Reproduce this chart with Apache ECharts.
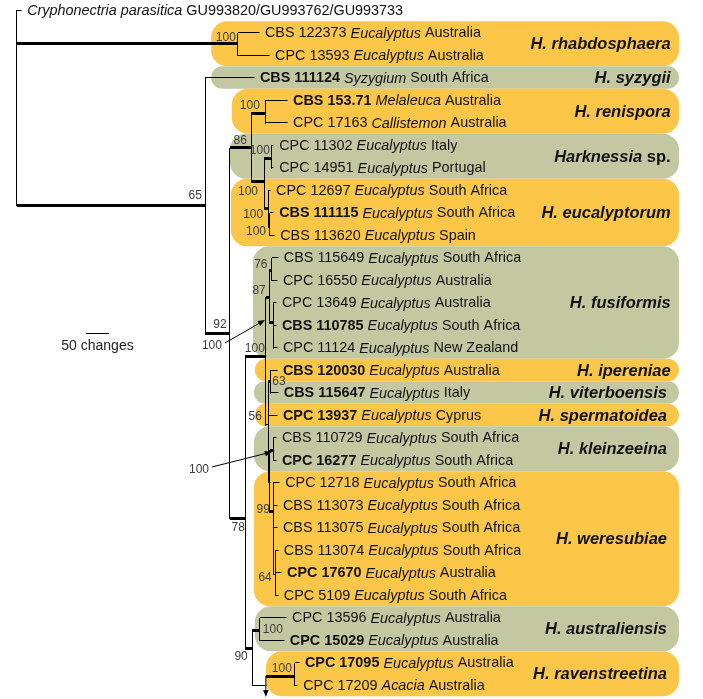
<!DOCTYPE html>
<html><head><meta charset="utf-8">
<script src="https://cdn.jsdelivr.net/npm/echarts@6/dist/echarts.min.js"></script>
<style>html,body{margin:0;padding:0;background:#fff}#c{width:703px;height:699px}</style>
</head><body><div id="c"></div>
<script>
// ---------------- DATA ----------------
// Terminal taxa (one per row, top to bottom)
const tipStrain = ['GU993820/GU993762/GU993733','CBS 122373','CPC 13593','CBS 111124','CBS 153.71','CPC 17163','CPC 11302','CPC 14951','CPC 12697','CBS 111115','CBS 113620','CBS 115649','CPC 16550','CPC 13649','CBS 110785','CPC 11124','CBS 120030','CBS 115647','CPC 13937','CBS 110729','CPC 16277','CPC 12718','CBS 113073','CBS 113075','CBS 113074','CPC 17670','CPC 5109','CPC 13596','CPC 15029','CPC 17095','CPC 17209'];
const tipHost = ['Cryphonectria parasitica','Eucalyptus','Eucalyptus','Syzygium','Melaleuca','Callistemon','Eucalyptus','Eucalyptus','Eucalyptus','Eucalyptus','Eucalyptus','Eucalyptus','Eucalyptus','Eucalyptus','Eucalyptus','Eucalyptus','Eucalyptus','Eucalyptus','Eucalyptus','Eucalyptus','Eucalyptus','Eucalyptus','Eucalyptus','Eucalyptus','Eucalyptus','Eucalyptus','Eucalyptus','Eucalyptus','Eucalyptus','Eucalyptus','Acacia'];
const tipCountry = ['','Australia','Australia','South Africa','Australia','Australia','Italy','Portugal','South Africa','South Africa','Spain','South Africa','Australia','Australia','South Africa','New Zealand','Australia','Italy','Cyprus','South Africa','South Africa','South Africa','South Africa','South Africa','South Africa','Australia','South Africa','Australia','Australia','Australia','Australia'];
const tipBold = [0,0,0,1,1,0,0,0,0,1,0,0,0,0,1,0,1,1,1,0,1,0,0,0,0,1,0,0,1,1,0];
// tip position along the branch-length axis (changes from root) and parent node
const tipX = [9,526,548,515,587,587,557,557,550,557,559,567,565,563,563,565,565,567,565,563,563,570,565,565,567,574,567,585,580,613,609];
const tipParent = [0,1,1,2,5,5,7,7,8,9,9,13,13,14,14,14,16,16,15,18,18,19,19,19,20,20,20,22,22,24,24];

// Internal nodes: x (changes from root), row position, parent, support, thick (bold branch)
const nodeX      = [0,   480, 409,  463,   509,  541,  537,  554,  546, 550,  496,   541,   548,   554,   557,   546,   552,   550,   557,   557,   561,   511,   528,   541,  604];
const nodeRow    = [4.3, 1.5, 8.67, 14.36, 6.13, 4.62, 7.64, 6.58, 8.8, 9.64, 22.58, 15.42, 12.76, 11.56, 13.87, 18.44, 16.53, 20.98, 19.56, 22.31, 25.07, 28.36, 27.56, 30.0, 29.6];
const nodeParent = [-1,  0,   0,    2,     3,    4,    4,    6,    6,   8,    3,     10,    11,    12,    12,    11,    15,    15,    17,    17,    19,    10,    21,    21,   23];
const nodeSupport= ['', '100','65', '92',  '86', '100','100','100','100','100','78', '100', '87',  '76',  '',    '56',  '63',  '',    '',    '99',  '64',  '90',  '100', '',   '100'];
const nodeThick  = [0,   1,   1,    1,     1,    1,    1,    1,    1,   1,    1,     1,     1,     1,     1,     0,     1,     0,     1,     1,     0,     1,     1,     0,    1];

// Supports pointed to with arrows
const arrowLabel = ['100','100',''];
const arrowFromX = [452, 424, 541];
const arrowFromRow = [14.8, 20.31, 29.6];
const arrowToX = [539, 554, 541];
const arrowToRow = [13.78, 19.64, 30.53];

// Clades (coloured bands)
const cladeName = ['H. rhabdosphaera','H. syzygii','H. renispora','Harknessia sp.','H. eucalyptorum','H. fusiformis','H. ipereniae','H. viterboensis','H. spermatoidea','H. kleinzeeina','H. weresubiae','H. australiensis','H. ravenstreetina'];
const cladeFirstRow = [1,3,4,6,8,11,16,17,18,19,21,27,29];
const cladeLastRow  = [2,3,5,7,10,15,16,17,18,20,26,28,30];
const cladeLeftX    = [422,422,467,463,465,513,517,515,517,515,515,517,541];
const cladeShade    = ['o','g','o','g','o','g','o','g','o','g','o','g','o'];

// Scale bar
const scaleBarChanges = 50;
const scaleBarLabel = '50 changes';

// ---------------- LAYOUT / STYLE ----------------
const PX_PER_CHANGE = 0.46, ROOT_PX = 17, ROW_PX = 22.5, TOP_PX = 10;
const W = 703, H = 699;
const X_MIN = -ROOT_PX / PX_PER_CHANGE, X_MAX = (W - ROOT_PX) / PX_PER_CHANGE;
const Y_MIN = -TOP_PX / ROW_PX, Y_MAX = (H - TOP_PX) / ROW_PX;
const BAND_RIGHT = 1439;      // band right edge (changes axis)
const CLADE_TEXT_RIGHT = [1421,1421,1421,1421,1421,1421,1421,1413,1413,1413,1413,1413,1413];
const SCALE_X0 = 150, SCALE_ROW = 14.36;
const FONT = '"Liberation Sans", Arial, Helvetica, sans-serif';
const COLORS = {o:'#FCC749', g:'#C4C8A1'};
const supportOffset = [[0,0],[-12,-6],[-10,-9],[-10,-8],[-11,-7],[-16,-8],[-16,10],[-12,-7],[-15,7],[-14,5],[-7,10],[-11,-8],[-10,-6],[-11,-5],[0,0],[-13,-8],[8,0],[0,0],[0,0],[-10,-2],[-10,4],[-11,9],[13,0],[0,0],[-13,-7]];

// ---------------- BUILD SEGMENTS ----------------
const segs = [];
nodeX.forEach((x, i) => {
  const p = nodeParent[i];
  if (p >= 0) segs.push([nodeX[p], nodeRow[i], x, nodeRow[i], nodeThick[i] ? 3 : 1]);
});
tipX.forEach((x, i) => { segs.push([nodeX[tipParent[i]], i, x, i, 1]); });
nodeX.forEach((x, i) => {
  const rows = [];
  nodeParent.forEach((p, j) => { if (p === i) rows.push(nodeRow[j]); });
  tipParent.forEach((p, j) => { if (p === i) rows.push(j); });
  if (rows.length > 1) segs.push([x, Math.min(...rows), x, Math.max(...rows), 1]);
});

function snap(v, w) { return (Math.round(w) % 2 === 1) ? Math.floor(v) + 0.5 : Math.round(v); }

function renderSeg(params, api) {
  const a = api.coord([api.value(0), api.value(1)]);
  const b = api.coord([api.value(2), api.value(3)]);
  const w = api.value(4);
  let x1 = a[0], y1 = a[1], x2 = b[0], y2 = b[1];
  if (y1 === y2) { y1 = y2 = snap(y1, w); x1 = Math.round(x1); x2 = Math.round(x2) + (w === 1 ? 0.5 : 0); }
  else { x1 = x2 = snap(x1, w); y1 = Math.round(y1); y2 = Math.round(y2) + 1; }
  return { type: 'line', shape: { x1, y1, x2, y2 }, style: { stroke: '#000', lineWidth: w, lineCap: 'butt' } };
}

function renderBand(params, api) {
  const i = params.dataIndex;
  const a = api.coord([cladeLeftX[i], cladeFirstRow[i] - 0.5]);
  const b = api.coord([BAND_RIGHT, cladeLastRow[i] + 0.5]);
  const h = b[1] - a[1];
  const r = Math.min(16, h / 2);
  const t = api.coord([CLADE_TEXT_RIGHT[i], (cladeFirstRow[i] + cladeLastRow[i]) / 2]);
  const nm = cladeName[i];
  const txt = nm === 'Harknessia sp.' ? '{bi|Harknessia}{b| sp.}' : '{bi|' + nm + '}';
  return { type: 'group', children: [
    { type: 'rect', shape: { x: a[0], y: a[1], width: b[0] - a[0], height: h, r: r }, style: { fill: COLORS[cladeShade[i]] } },
    { type: 'text', x: t[0], y: t[1] + 1, style: { text: txt, align: 'right', verticalAlign: 'middle',
        rich: { bi: { fontFamily: FONT, fontSize: 16.5, fontWeight: 'bold', fontStyle: 'italic', fill: '#111' },
                b: { fontFamily: FONT, fontSize: 16.5, fontWeight: 'bold', fill: '#111' } } } }
  ] };
}

const TIP_FS = 14.4;
const tipRich = {
  s: { fontFamily: FONT, fontSize: TIP_FS, fill: '#111' },
  sb: { fontFamily: FONT, fontSize: TIP_FS, fontWeight: 'bold', fill: '#111' },
  i: { fontFamily: FONT, fontSize: TIP_FS, fontStyle: 'italic', fill: '#111' },
  n: { fontFamily: FONT, fontSize: TIP_FS, fill: '#111' }
};
function renderTip(params, api) {
  const i = params.dataIndex;
  const p = api.coord([tipX[i], i]);
  let txt;
  if (i === 0) txt = '{i|' + tipHost[i] + '}{n| ' + tipStrain[i] + '}';
  else txt = '{' + (tipBold[i] ? 'sb' : 's') + '|' + tipStrain[i] + ' }{i|' + tipHost[i] + '}{n| ' + tipCountry[i] + '}';
  return { type: 'text', x: p[0] + 6, y: p[1] + 1, style: { text: txt, rich: tipRich, align: 'left', verticalAlign: 'middle' } };
}

function renderSupport(params, api) {
  const i = params.dataIndex;
  if (!nodeSupport[i]) return null;
  const p = api.coord([nodeX[i], nodeRow[i]]);
  const o = supportOffset[i];
  return { type: 'text', x: p[0] + o[0], y: p[1] + o[1], style: { text: nodeSupport[i], fontFamily: FONT, fontSize: 12, fill: '#3c3c3c', align: 'center', verticalAlign: 'middle' } };
}

function renderArrow(params, api) {
  const i = params.dataIndex;
  const a = api.coord([arrowFromX[i], arrowFromRow[i]]);
  const b = api.coord([arrowToX[i], arrowToRow[i]]);
  const dx = b[0] - a[0], dy = b[1] - a[1], L = Math.hypot(dx, dy), ux = dx / L, uy = dy / L;
  const hl = 7, hw = 2.8;
  const bx = b[0] - ux * hl, by = b[1] - uy * hl;
  const children = [
    { type: 'line', shape: { x1: a[0], y1: a[1], x2: bx, y2: by }, style: { stroke: '#000', lineWidth: 1 } },
    { type: 'polygon', shape: { points: [[b[0], b[1]], [bx - uy * hw, by + ux * hw], [bx + uy * hw, by - ux * hw]] }, style: { fill: '#000' } }
  ];
  if (arrowLabel[i]) children.push({ type: 'text', x: a[0] - 3, y: a[1] + 3, style: { text: arrowLabel[i], fontFamily: FONT, fontSize: 12, fill: '#3c3c3c', align: 'right', verticalAlign: 'middle' } });
  return { type: 'group', children };
}

function renderScale(params, api) {
  const a = api.coord([SCALE_X0, SCALE_ROW]);
  const b = api.coord([SCALE_X0 + scaleBarChanges, SCALE_ROW]);
  const y = Math.floor(a[1]) + 0.5;
  return { type: 'group', children: [
    { type: 'line', shape: { x1: Math.round(a[0]), y1: y, x2: Math.round(b[0]), y2: y }, style: { stroke: '#000', lineWidth: 1 } },
    { type: 'text', x: (a[0] + b[0]) / 2, y: y + 13, style: { text: scaleBarLabel, fontFamily: FONT, fontSize: 14, fill: '#222', align: 'center', verticalAlign: 'middle' } }
  ] };
}

const chart = echarts.init(document.getElementById('c'), null, { renderer: 'canvas' });
chart.setOption({
  animation: false,
  backgroundColor: '#fff',
  grid: { left: 0, right: 0, top: 0, bottom: 0 },
  xAxis: { type: 'value', min: X_MIN, max: X_MAX, show: false },
  yAxis: { type: 'value', min: Y_MIN, max: Y_MAX, inverse: true, show: false },
  series: [
    { type: 'custom', silent: true, z: 1, renderItem: renderBand, data: cladeName.map((_, i) => [cladeLeftX[i], cladeFirstRow[i]]) },
    { type: 'custom', silent: true, z: 2, renderItem: renderSeg, encode: { x: [0, 2], y: [1, 3] }, data: segs },
    { type: 'custom', silent: true, z: 3, renderItem: renderArrow, data: arrowLabel.map((_, i) => [arrowToX[i], arrowToRow[i]]) },
    { type: 'custom', silent: true, z: 4, renderItem: renderTip, data: tipX.map((x, i) => [x, i]) },
    { type: 'custom', silent: true, z: 4, renderItem: renderSupport, data: nodeX.map((x, i) => [x, nodeRow[i]]) },
    { type: 'custom', silent: true, z: 4, renderItem: renderScale, data: [[SCALE_X0, SCALE_ROW]] }
  ]
});
</script></body></html>
